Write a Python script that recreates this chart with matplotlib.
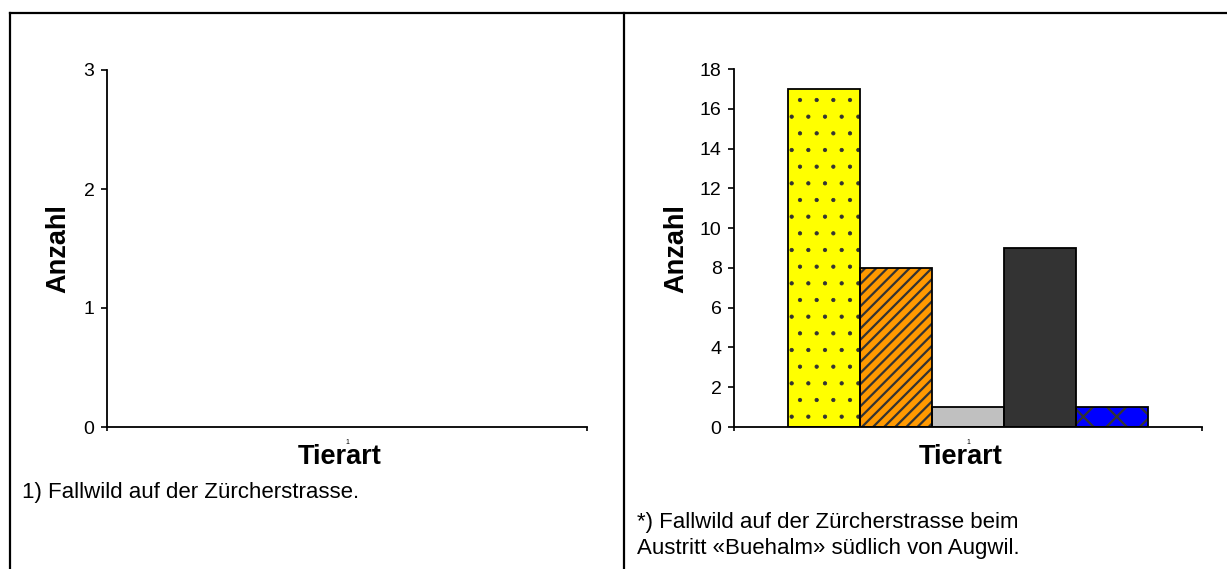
import matplotlib.pyplot as plt
from matplotlib.lines import Line2D

plt.rcParams['font.family'] = ['Liberation Sans', 'DejaVu Sans']
plt.rcParams['hatch.linewidth'] = 1.6

W, H = 1227, 569

# one category on the x axis, five animal groups as bars
kategorien = ['1']
anzahl_zuercherstrasse = []           # left chart: no cases
anzahl_buehalm = [17, 8, 1, 9, 1]     # right chart
y_max_links, y_max_rechts = 3, 18

bar_colors = ['#FFFF00', '#FF9900', '#C0C0C0', '#333333', '#0000FF']
bar_hatches = ['.', '///', None, None, 'x']
hatch_widths = [0.6, 1.6, 1.0, 1.0, 1.6]
hatch_color = '#333333'


def fx(px):
    return px / W


def fy(px):
    return 1 - px / H


def style_axes(ax, y_max, y_step):
    ax.set_xlim(0.5, 1.5)
    ax.set_ylim(0, y_max)
    for side in ('top', 'right'):
        ax.spines[side].set_visible(False)
    for side in ('left', 'bottom'):
        ax.spines[side].set_linewidth(1.3)
    ax.set_yticks(range(0, y_max + 1, y_step))
    ax.tick_params(axis='y', direction='out', length=4, width=1.2,
                   labelsize=14, pad=5)
    # category boundaries as ticks, category name centred
    ax.set_xticks([0.5, 1.5])
    ax.set_xticklabels(['', ''])
    ax.tick_params(axis='x', which='major', direction='out', length=3, width=1.2)
    ax.set_xticks([1.0], minor=True)
    ax.set_xticklabels(kategorien, minor=True)
    ax.tick_params(axis='x', which='minor', length=0, labelsize=5, pad=9)
    ax.set_xlabel('Tierart', fontsize=19.5, fontweight='bold')
    ax.xaxis.set_label_coords(0.485, -0.048)


fig = plt.figure(figsize=(W / 100, H / 100), dpi=100)

# frame lines of the table layout
fig.add_artist(Line2D([fx(10), 1], [fy(13), fy(13)], color='black', lw=1.6))
fig.add_artist(Line2D([fx(10), fx(10)], [0, fy(13)], color='black', lw=1.6))
fig.add_artist(Line2D([fx(624), fx(624)], [0, fy(13)], color='black', lw=1.6))

# left chart
ax1 = fig.add_axes([fx(107), fy(427), fx(587 - 107), (427 - 70) / H])
style_axes(ax1, y_max_links, 1)
fig.text(fx(58), fy(249), 'Anzahl', rotation=90, ha='center', va='center',
         fontsize=19.5, fontweight='bold')

# right chart
ax2 = fig.add_axes([fx(734), fy(427), fx(1202 - 734), (427 - 69) / H])
style_axes(ax2, y_max_rechts, 2)
n = len(anzahl_buehalm)
width = 0.77 / n
pos = [1.0 + (i - (n - 1) / 2) * width for i in range(n)]
for x, val, col, hat, hw in zip(pos, anzahl_buehalm, bar_colors,
                                bar_hatches, hatch_widths):
    # fill + pattern first, black outline on top
    with plt.rc_context({'hatch.linewidth': hw}):
        ax2.bar(x, val, width=width, color=col, edgecolor=hatch_color,
                linewidth=0, hatch=hat, zorder=2)
    ax2.bar(x, val, width=width, fill=False, edgecolor='black',
            linewidth=1.3, zorder=3)
fig.text(fx(676), fy(249), 'Anzahl', rotation=90, ha='center', va='center',
         fontsize=19.5, fontweight='bold')

# footnotes
fig.text(fx(22), fy(498), '1) Fallwild auf der Zürcherstrasse.',
         fontsize=16, va='baseline')
fig.text(fx(637), fy(528), '*) Fallwild auf der Zürcherstrasse beim',
         fontsize=16, va='baseline')
fig.text(fx(637), fy(554), 'Austritt «Buehalm» südlich von Augwil.',
         fontsize=16, va='baseline')

fig.savefig('out.png', dpi=100)
